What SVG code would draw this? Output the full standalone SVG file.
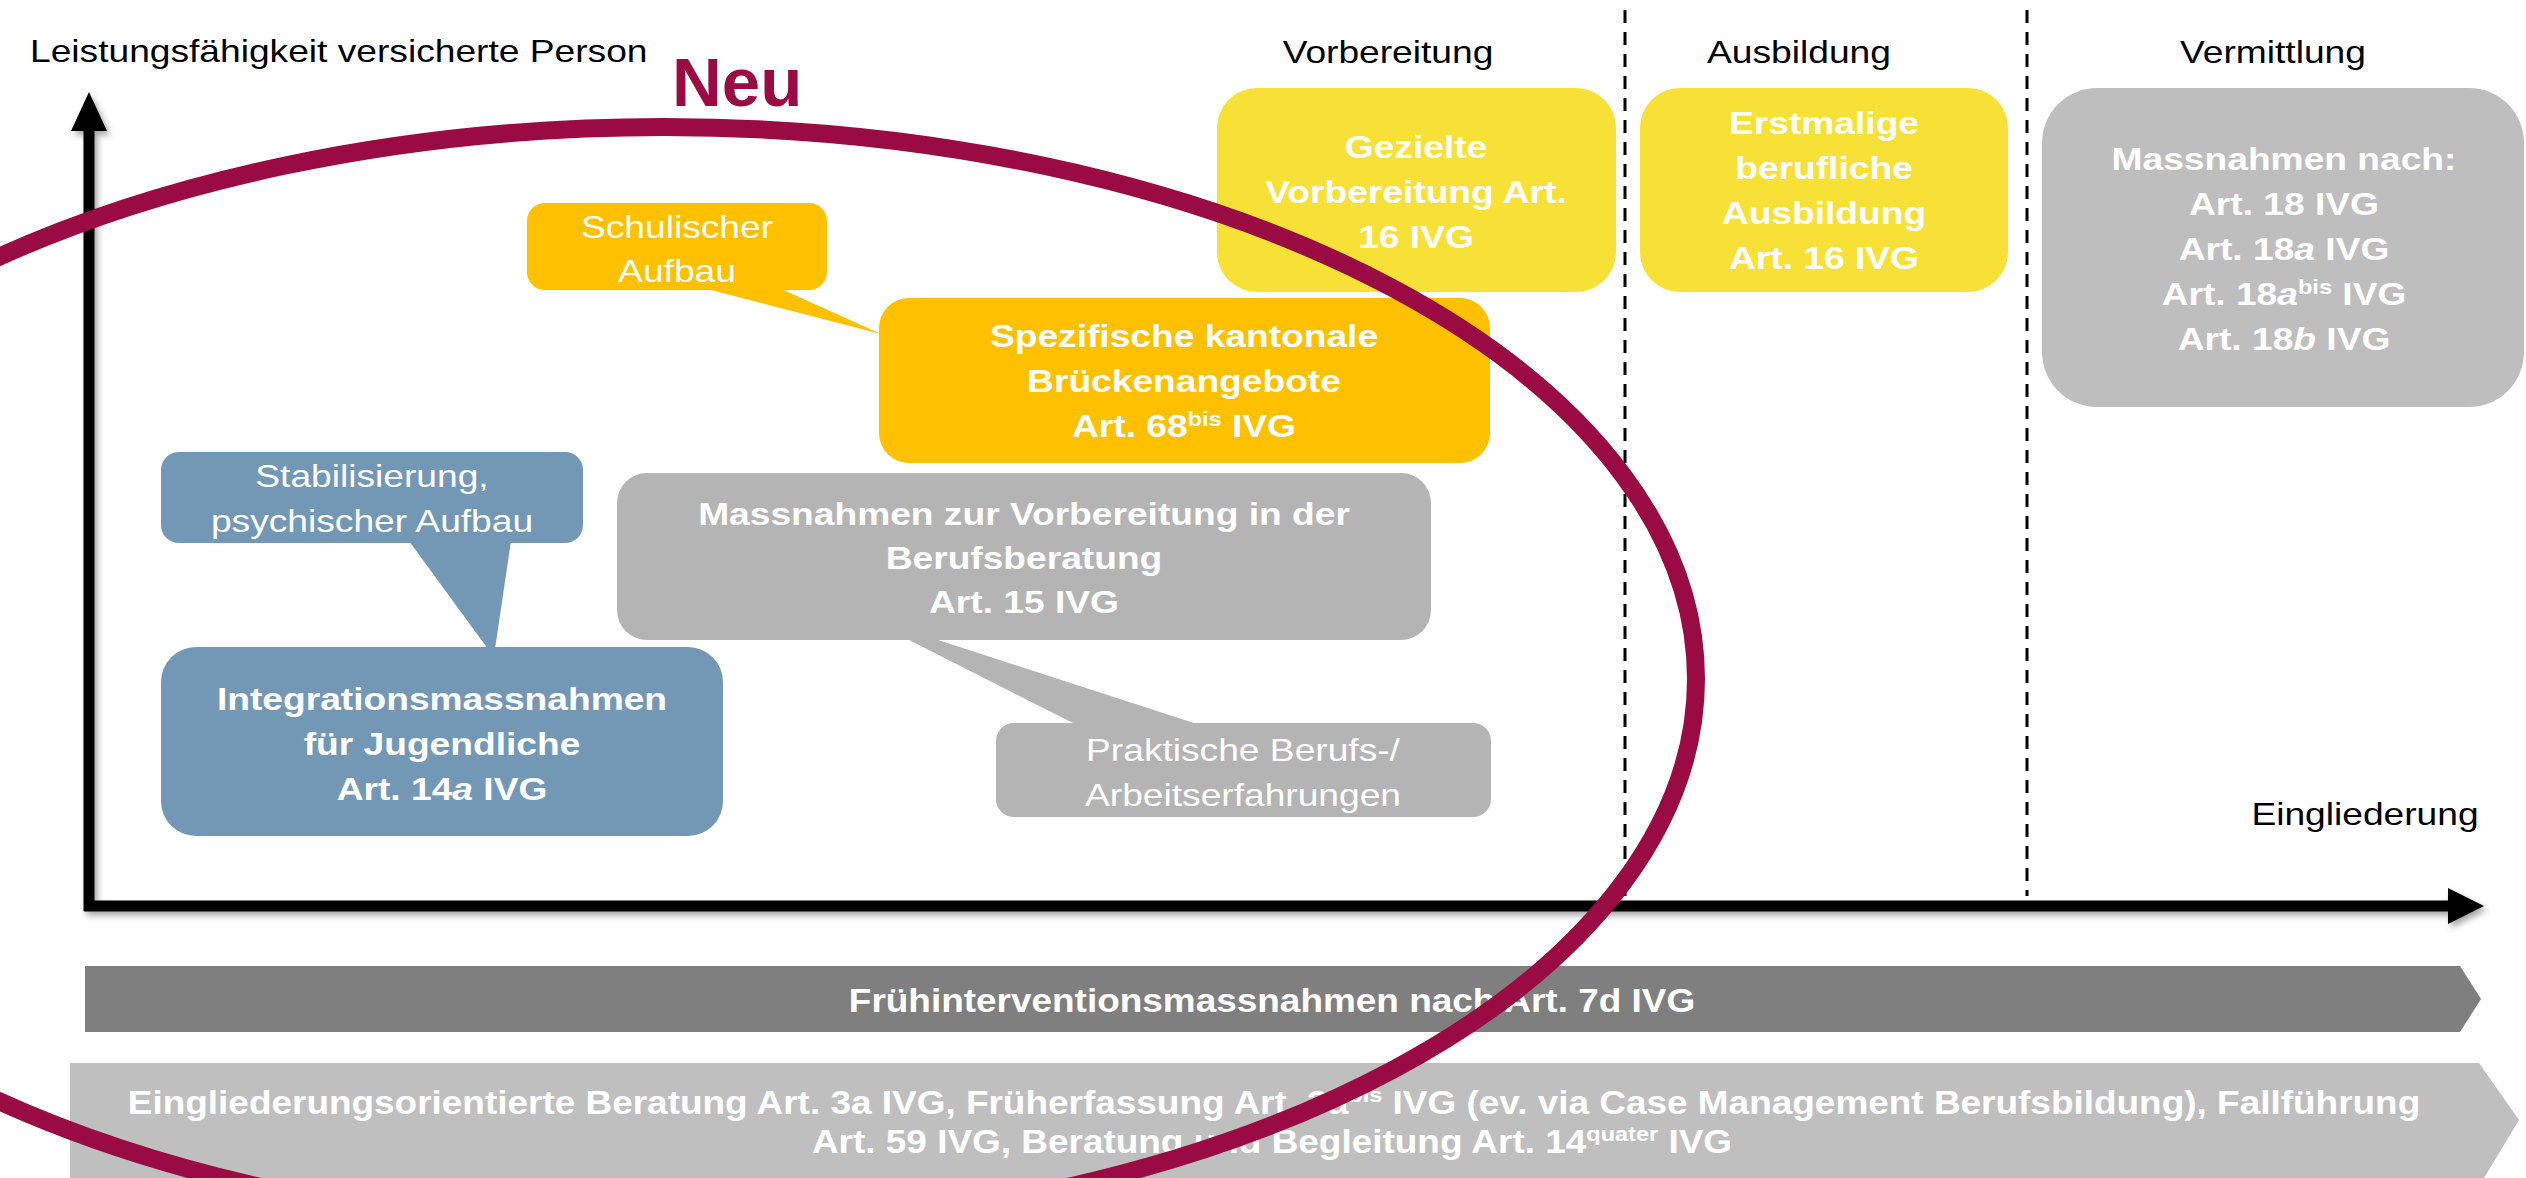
<svg xmlns="http://www.w3.org/2000/svg" width="2526" height="1178" viewBox="0 0 2526 1178">
<style>
.t{font-family:"Liberation Sans",Arial,sans-serif;font-size:31.5px}
.bt{font-size:33px}
.b{font-weight:bold}
.w{fill:#ffffff}
.k{fill:#000000}
.it{font-style:italic}
.yel{fill:#F8E136}
.org{fill:#FFC000}
.blu{fill:#7398B6}
.gry{fill:#B4B4B4}
.dash{stroke:#000;stroke-width:3;stroke-dasharray:13 9;fill:none}
</style>
<defs>
<filter id="sh" x="-5%" y="-5%" width="110%" height="110%">
<feDropShadow dx="3" dy="4" stdDeviation="3" flood-color="#000" flood-opacity="0.35"/>
</filter>
</defs>
<rect width="2526" height="1178" fill="#ffffff"/>

<g id="band-fruehintervention">
<polygon points="85,966 2460,966 2481,999 2460,1032 85,1032" fill="#7F7F7F"/>
<text class="t bt b w" text-anchor="middle" transform="translate(1272,1012) scale(1.12,1)">Frühinterventionsmassnahmen nach Art. 7d IVG</text>
</g>
<g id="band-beratung">
<polygon points="70,1063 2479,1063 2519,1120 2484,1178 70,1178" fill="#BFBFBF"/>
<text class="t bt b w" text-anchor="middle" transform="translate(1274,1114) scale(1.12,1)"><tspan x="0" y="0">Eingliederungsorientierte Beratung Art. 3a IVG, Früherfassung Art. 3a</tspan><tspan font-size="21" dy="-12">bis</tspan><tspan dy="12"> IVG (ev. via Case Management Berufsbildung), Fallführung</tspan></text>
<text class="t bt b w" text-anchor="middle" transform="translate(1272,1153) scale(1.12,1)"><tspan x="0" y="0">Art. 59 IVG, Beratung und Begleitung Art. 14</tspan><tspan font-size="21" dy="-12">quater</tspan><tspan dy="12"> IVG</tspan></text>
</g>

<g id="axes" filter="url(#sh)">
<line x1="89" y1="128" x2="89" y2="911" stroke="#000" stroke-width="11"/>
<polygon points="89,92 71,131 107,131" fill="#000"/>
<line x1="84" y1="906" x2="2450" y2="906" stroke="#000" stroke-width="11"/>
<polygon points="2484,906 2448,888 2448,924" fill="#000"/>
</g>
<g id="dividers">
<line class="dash" x1="1625" y1="10" x2="1625" y2="896"/>
<line class="dash" x1="2027" y1="10" x2="2027" y2="896"/>
</g>

<g id="labels">
<text class="t k" transform="translate(30,62) scale(1.18,1)">Leistungsfähigkeit versicherte Person</text>
<text class="t k" text-anchor="middle" transform="translate(1388,63) scale(1.18,1)">Vorbereitung</text>
<text class="t k" text-anchor="middle" transform="translate(1799,63) scale(1.18,1)">Ausbildung</text>
<text class="t k" text-anchor="middle" transform="translate(2273,63) scale(1.18,1)">Vermittlung</text>
<text class="t k" text-anchor="middle" transform="translate(2365,825) scale(1.18,1)">Eingliederung</text>
</g>

<g id="connectors">
<polygon class="org" points="703,288 779,288 881,334"/>
<polygon class="blu" points="409,541 511,541 495,649 488,649"/>
<polygon class="gry" points="905,638 932,638 1200,725 1077,725"/>
</g>

<g id="node-gezielte">
<rect class="yel" x="1217" y="88" width="399" height="204" rx="40"/>
<text class="t b w" text-anchor="middle" transform="translate(1416,158) scale(1.18,1)"><tspan x="0" y="0">Gezielte</tspan><tspan x="0" y="45">Vorbereitung Art.</tspan><tspan x="0" y="90">16 IVG</tspan></text>
</g>
<g id="node-erstmalige">
<rect class="yel" x="1640" y="88" width="368" height="204" rx="40"/>
<text class="t b w" text-anchor="middle" transform="translate(1824,134) scale(1.18,1)"><tspan x="0" y="0">Erstmalige</tspan><tspan x="0" y="45">berufliche</tspan><tspan x="0" y="90">Ausbildung</tspan><tspan x="0" y="135">Art. 16 IVG</tspan></text>
</g>
<g id="node-vermittlung">
<rect x="2042" y="88" width="482" height="319" rx="55" fill="#BEBEBE"/>
<text class="t b w" text-anchor="middle" transform="translate(2284,170) scale(1.18,1)"><tspan x="0" y="0">Massnahmen nach:</tspan><tspan x="0" y="45">Art. 18 IVG</tspan><tspan x="0" y="90">Art. 18</tspan><tspan class="it">a</tspan><tspan> IVG</tspan><tspan x="0" y="135">Art. 18</tspan><tspan class="it">a</tspan><tspan font-size="20" dy="-11">bis</tspan><tspan dy="11"> IVG</tspan><tspan x="0" y="180">Art. 18</tspan><tspan class="it">b</tspan><tspan> IVG</tspan></text>
</g>
<g id="node-schulisch">
<rect class="org" x="527" y="203" width="300" height="87" rx="18"/>
<text class="t w" text-anchor="middle" transform="translate(677,238) scale(1.18,1)"><tspan x="0" y="0">Schulischer</tspan><tspan x="0" y="44">Aufbau</tspan></text>
</g>
<g id="node-brueckenangebote">
<rect class="org" x="879" y="298" width="611" height="165" rx="30"/>
<text class="t b w" text-anchor="middle" transform="translate(1184,347) scale(1.18,1)"><tspan x="0" y="0">Spezifische kantonale</tspan><tspan x="0" y="45">Brückenangebote</tspan><tspan x="0" y="90">Art. 68</tspan><tspan font-size="20" dy="-11">bis</tspan><tspan dy="11"> IVG</tspan></text>
</g>
<g id="node-stabilisierung">
<rect class="blu" x="161" y="452" width="422" height="91" rx="18"/>
<text class="t w" text-anchor="middle" transform="translate(372,487) scale(1.18,1)"><tspan x="0" y="0">Stabilisierung,</tspan><tspan x="0" y="45">psychischer Aufbau</tspan></text>
</g>
<g id="node-berufsberatung">
<rect class="gry" x="617" y="473" width="814" height="167" rx="30"/>
<text class="t b w" text-anchor="middle" transform="translate(1024,525) scale(1.18,1)"><tspan x="0" y="0">Massnahmen zur Vorbereitung in der</tspan><tspan x="0" y="44">Berufsberatung</tspan><tspan x="0" y="88">Art. 15 IVG</tspan></text>
</g>
<g id="node-integration">
<rect class="blu" x="161" y="647" width="562" height="189" rx="35"/>
<text class="t b w" text-anchor="middle" transform="translate(442,710) scale(1.18,1)"><tspan x="0" y="0">Integrationsmassnahmen</tspan><tspan x="0" y="45">für Jugendliche</tspan><tspan x="0" y="90">Art. 14</tspan><tspan class="it">a</tspan><tspan> IVG</tspan></text>
</g>
<g id="node-praktisch">
<rect class="gry" x="996" y="723" width="495" height="94" rx="18"/>
<text class="t w" text-anchor="middle" transform="translate(1243,761) scale(1.18,1)"><tspan x="0" y="0">Praktische Berufs-/</tspan><tspan x="0" y="45">Arbeitserfahrungen</tspan></text>
</g>

<g id="neu-highlight">
<ellipse cx="664" cy="679" rx="1032" ry="552" fill="none" stroke="#9A0B43" stroke-width="18"/>
<text x="672" y="106" font-family="'Liberation Sans',Arial,sans-serif" font-weight="bold" font-size="69" fill="#9A0B43">Neu</text>
</g>
</svg>
